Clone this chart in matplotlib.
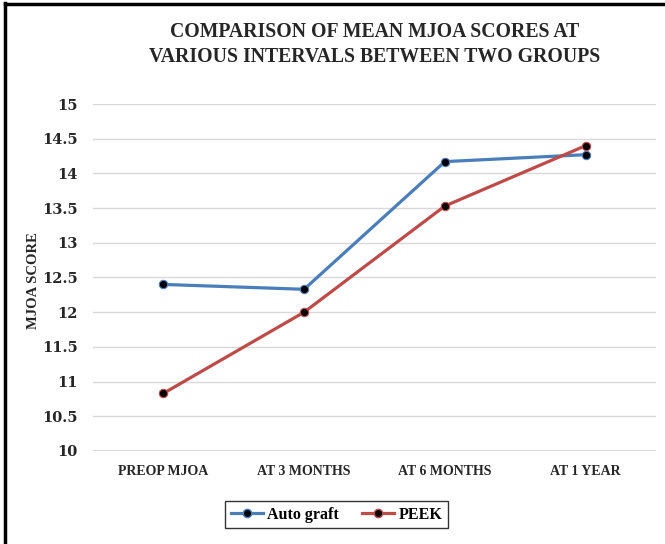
import matplotlib
matplotlib.use('Agg')
import matplotlib.pyplot as plt
from matplotlib.lines import Line2D

categories = ['PREOP MJOA', 'AT 3 MONTHS', 'AT 6 MONTHS', 'AT 1 YEAR']
auto_graft = [12.40, 12.33, 14.17, 14.27]
peek = [10.83, 12.00, 13.53, 14.40]
y_ticks = [10, 10.5, 11, 11.5, 12, 12.5, 13, 13.5, 14, 14.5, 15]

plt.rcParams['font.family'] = ['Liberation Serif', 'DejaVu Serif']
plt.rcParams['font.weight'] = 'bold'

fig = plt.figure(figsize=(6.65, 5.44), dpi=100)
ax = fig.add_axes([0.1398, 0.1710, 0.8467, 0.6378])

x = range(len(categories))
ax.plot(x, auto_graft, color='#4A7EBB', lw=2.3, marker='o', ms=6,
        mfc='black', mec='#4A7EBB', mew=0.8, label='Auto graft', zorder=3)
ax.plot(x, peek, color='#BE4B48', lw=2.3, marker='o', ms=6,
        mfc='black', mec='#BE4B48', mew=0.8, label='PEEK', zorder=3)

ax.set_xlim(-0.5, len(categories) - 0.5)
ax.set_ylim(10, 15)
ax.set_yticks(y_ticks)
ax.set_yticklabels([f'{t:g}' for t in y_ticks], fontsize=10.5, fontweight='bold',
                   color='#262626', family='DejaVu Serif')
ax.set_xticks(list(x))
ax.set_xticklabels(categories, fontsize=10, fontweight='bold', color='#262626')
ax.tick_params(axis='y', length=0, pad=11)
ax.tick_params(axis='x', length=0, pad=10)
ax.grid(axis='y', color='#D9D9D9', lw=1)
ax.set_axisbelow(True)
for s in ax.spines.values():
    s.set_visible(False)
ax.axhline(10, color='#D9D9D9', lw=1.5, zorder=1)

ax.set_ylabel('MJOA SCORE', fontsize=10.5, fontweight='bold', color='#262626')
ax.yaxis.set_label_coords(-0.094, 0.49)

fig.text(0.5639, 0.918, 'COMPARISON OF MEAN MJOA SCORES AT\nVARIOUS INTERVALS BETWEEN TWO GROUPS',
         ha='center', va='center', fontsize=14.2, fontweight='bold', color='#262626',
         linespacing=1.3)

handles = [Line2D([], [], color='#4A7EBB', lw=2.3, marker='o', ms=6, mfc='black', mec='#4A7EBB'),
           Line2D([], [], color='#BE4B48', lw=2.3, marker='o', ms=6, mfc='black', mec='#BE4B48')]
leg = fig.legend(handles, ['Auto graft', 'PEEK'], loc='center', bbox_to_anchor=(0.506, 0.054),
                 ncol=2, frameon=True, fancybox=False, edgecolor='black',
                 prop={'size': 11.5, 'weight': 'bold'}, handlelength=2.0, columnspacing=1.4,
                 handletextpad=0.3, borderpad=0.35)
leg.get_frame().set_linewidth(1.0)

# outer border (top and left)
fig.add_artist(Line2D([0.0075, 0.0075], [0, 0.994], color='black', lw=2.5, transform=fig.transFigure))
fig.add_artist(Line2D([0.0075, 1], [0.993, 0.993], color='black', lw=2.5, transform=fig.transFigure))

fig.savefig('out.png', dpi=100)
